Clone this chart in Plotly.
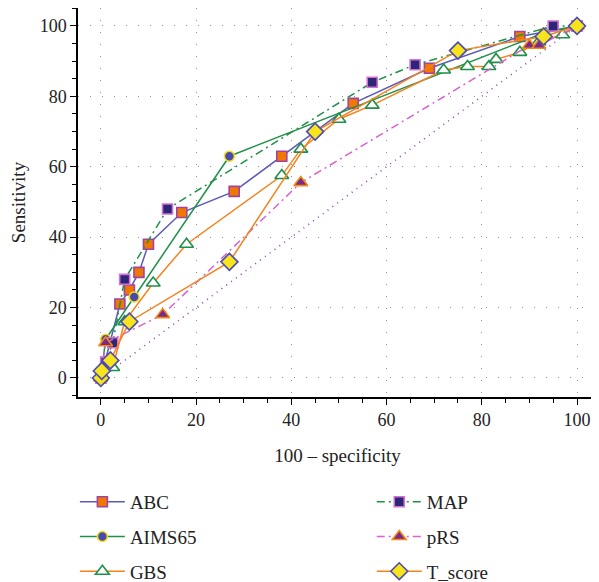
import plotly.graph_objects as go

abc_x = [0, 4, 6, 8, 10, 17, 28, 38, 53, 69, 88, 100]
abc_y = [0, 21, 25, 30, 38, 47, 53, 63, 78, 88, 97, 100]

aims_x = [0, 1, 7, 27, 93, 100]
aims_y = [0, 11, 23, 63, 98, 100]

gbs_x = [0, 2.5, 5, 11, 18, 38, 42, 50, 57, 72, 77, 81.5, 83, 88, 92, 97, 100]
gbs_y = [0, 3, 16, 27, 38, 57.5, 65, 73.5, 77.5, 87.5, 88.5, 88.5, 90.5, 92.5, 95.5, 97.5, 100]

map_x = [0, 1, 2.5, 5, 14, 57, 66, 95, 100]
map_y = [0, 4.5, 10, 28, 48, 84, 89, 100, 100]

prs_x = [0, 1, 13, 42, 90, 92, 100]
prs_y = [0, 10, 18, 55.5, 94.5, 94.5, 100]

ts_x = [0, 0.2, 2, 6, 27, 45, 75, 93, 100]
ts_y = [0, 2, 5, 16, 33, 70, 93, 97, 100]

ref_x = [0, 100]
ref_y = [0, 100]

FONT = "Liberation Serif"

fig = go.Figure()

fig.add_trace(go.Scatter(x=ref_x, y=ref_y, mode="lines", showlegend=False,
                         line=dict(color="#9a3fc0", width=1.6, dash="1px,5px"), hoverinfo="skip"))

def add(name, x, y, lcolor, dash, symbol, fill, border, size, legend):
    fig.add_trace(go.Scatter(
        x=x, y=y, name=name, mode="lines+markers",
        line=dict(color=lcolor, width=1.5, dash=dash),
        marker=dict(symbol=symbol, color=fill, size=size, line=dict(color=border, width=1.6)),
        legend=legend, legendgroup=name))

add("ABC", abc_x, abc_y, "#5a5ab8", "solid", "square", "#f07800", "#a0449e", 10, "legend")
add("AIMS65", aims_x, aims_y, "#1e9048", "solid", "circle", "#4a4aac", "#f0e01e", 10, "legend")
add("GBS", gbs_x, gbs_y, "#f5821f", "solid", "triangle-up", "white", "#1e9048", 12, "legend")
add("MAP", map_x, map_y, "#1e9048", "8px,4px,2px,4px", "square", "#2c2676", "#d472d4", 10, "legend2")
add("pRS", prs_x, prs_y, "#d762d0", "8px,4px,2px,4px", "triangle-up", "#7a2a8c", "#f28a10", 12, "legend2")
add("T_score", ts_x, ts_y, "#f5821f", "solid", "diamond", "#f7e41a", "#4c4cb4", 13, "legend2")

axis_common = dict(
    showline=True, linecolor="black", linewidth=1.5, automargin=False,
    ticks="outside", ticklen=6, tickwidth=1.3, tickcolor="black",
    showgrid=True, gridcolor="#909090", gridwidth=1.2, griddash="1px,11px",
    zeroline=False, dtick=20, tick0=0,
    minor=dict(ticks="outside", ticklen=4, tickwidth=1.2, tickcolor="black", dtick=5, tick0=0, showgrid=False),
    tickfont=dict(family=FONT, size=18, color="#222"),
)

fig.update_xaxes(range=[-4.8, 104.2], title=dict(text="100 – specificity", font=dict(family=FONT, size=19, color="#222"), standoff=19), **axis_common)
fig.update_yaxes(range=[-5.4, 105.1], title=dict(text="Sensitivity", font=dict(family=FONT, size=19, color="#222"), standoff=10), **axis_common)

leg_common = dict(font=dict(family=FONT, size=19, color="#222"), tracegroupgap=7,
                  itemwidth=45, bgcolor="rgba(0,0,0,0)", yanchor="top", xanchor="left",
                  traceorder="grouped")

fig.update_layout(
    width=591, height=574,
    margin=dict(l=70, r=2, t=0, b=185, autoexpand=False),
    plot_bgcolor="white", paper_bgcolor="white",
    legend=dict(x=-0.006, y=-0.221, **leg_common),
    legend2=dict(x=0.566, y=-0.221, **leg_common),
)

fig.write_html("out.html")
